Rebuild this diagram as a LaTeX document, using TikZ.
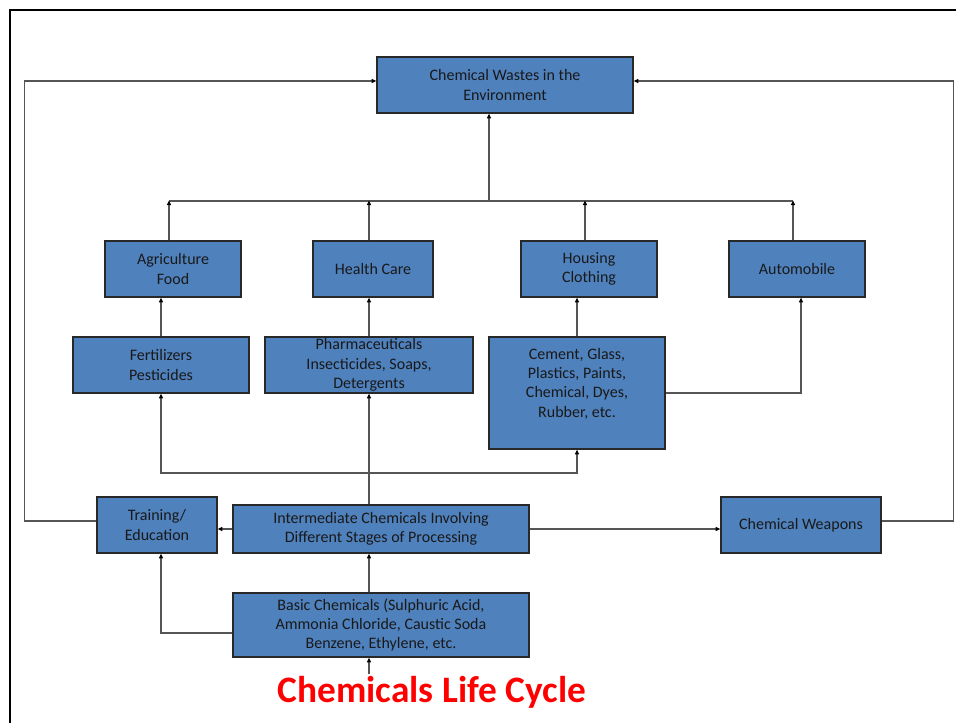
\documentclass[tikz,border=0pt]{standalone}
\usepackage{fontspec}
\setmainfont{Carlito}
\usepackage{xcolor}
\usepackage{tikz}
\usetikzlibrary{calc,arrows.meta,positioning}
\definecolor{lifeBlue}{RGB}{79,129,189}
\definecolor{lifeEdge}{RGB}{40,40,40}
\definecolor{lifeLine}{RGB}{85,85,85}
\definecolor{lifeRed}{RGB}{255,0,0}

\begin{document}
\begin{tikzpicture}[x=0.75pt,y=-0.75pt,
  box/.style={draw=lifeEdge, fill=lifeBlue, line width=0.9pt, align=center,
    inner sep=0pt, font=\fontsize{12}{14.5}\selectfont, text=black!90},
  link/.style={draw=lifeLine, line width=0.9pt, -{Triangle[length=3.5pt,width=3pt,color=black]}},
  wire/.style={draw=lifeLine, line width=0.9pt}]
\useasboundingbox (0,0) rectangle (956,723);
\draw[line width=2.2pt] (10,723) -- (10,10) -- (956,10);

% boxes
\node[box, minimum width=192pt, minimum height=42pt] (waste) at (505,85) {Chemical Wastes in the\\Environment};
\node[box, minimum width=102pt, minimum height=42pt] (agri) at (173,269) {Agriculture\\Food};
\node[box, minimum width=90pt, minimum height=42pt] (health) at (373,269) {Health Care};
\node[box, minimum width=102pt, minimum height=42pt] (housing) at (589,269) {Housing\\Clothing};
\node[box, minimum width=102pt, minimum height=42pt] (auto) at (797,269) {Automobile};
\node[box, minimum width=132pt, minimum height=42pt] (fert) at (161,365) {Fertilizers\\Pesticides};
\node[box, minimum width=156pt, minimum height=42pt] (pharma) at (369,365) {Pharmaceuticals\\Insecticides, Soaps,\\Detergents};
\node[box, minimum width=132pt, minimum height=84pt] (cement) at (577,393) {};
\node[font=\fontsize{12}{14.5}\selectfont, align=center, text=black!90] (cementtext) at ([yshift=7pt]cement.center)
  {Cement, Glass,\\Plastics, Paints,\\Chemical, Dyes,\\Rubber, etc.};
\node[box, minimum width=90pt, minimum height=42pt] (training) at (157,525) {Training/\\Education};
\node[box, minimum width=222pt, minimum height=36pt] (inter) at (381,529) {Intermediate Chemicals Involving\\Different Stages of Processing};
\node[box, minimum width=120pt, minimum height=42pt] (weapons) at (801,525) {Chemical Weapons};
\node[box, minimum width=222pt, minimum height=48pt] (basic) at (381,625) {Basic Chemicals (Sulphuric Acid,\\Ammonia Chloride, Caustic Soda\\Benzene, Ethylene, etc.};
\node[font=\fontsize{28}{30}\selectfont\bfseries, text=lifeRed, inner sep=1pt] (title) at (432,692) {Chemicals Life Cycle};

% upper level
\coordinate (bus) at (489,201);
\draw[link] (bus) -- (waste.south -| bus);
\draw[wire] ([xshift=-3pt]agri.north |- bus) -- (793,201);
\foreach \n in {agri,health,housing,auto}
  \draw[link] ([xshift=-3pt]\n.north) -- ++(0,-40);
\draw[link] (fert.north) -- (fert.north |- agri.south);
\draw[link] (pharma.north) -- (pharma.north |- health.south);
\draw[link] (cement.north) -- (cement.north |- housing.south);
\coordinate (autoin) at ([xshift=3pt]auto.south);
\draw[link] (cement.east) -| (autoin);

% lower level
\coordinate (split) at (369,473);
\draw[link] (inter.north -| pharma.south) -- (pharma.south);
\draw[link] (split) -| (fert.south);
\draw[link] (split) -| (cement.south);
\draw[link] (inter.west) -- (inter.west -| training.east);
\draw[link] (inter.east) -- (inter.east -| weapons.west);
\draw[link] (basic.north -| pharma.south) -- (inter.south -| pharma.south);
\coordinate (basicout) at ([yshift=-6pt]basic.west);
\coordinate (trainin) at ([xshift=3pt]training.south);
\draw[link] (basicout) -| (trainin);
\draw[link] (title.north -| pharma.south) -- (basic.south -| pharma.south);

% feedback to the environment
\draw[link] ([yshift=3pt]training.west) -- ++(-72,0) |- ([yshift=3pt]waste.west);
\draw[link] ([yshift=3pt]weapons.east) -- ++(72,0) |- ([yshift=3pt]waste.east);
\end{tikzpicture}
\end{document}
